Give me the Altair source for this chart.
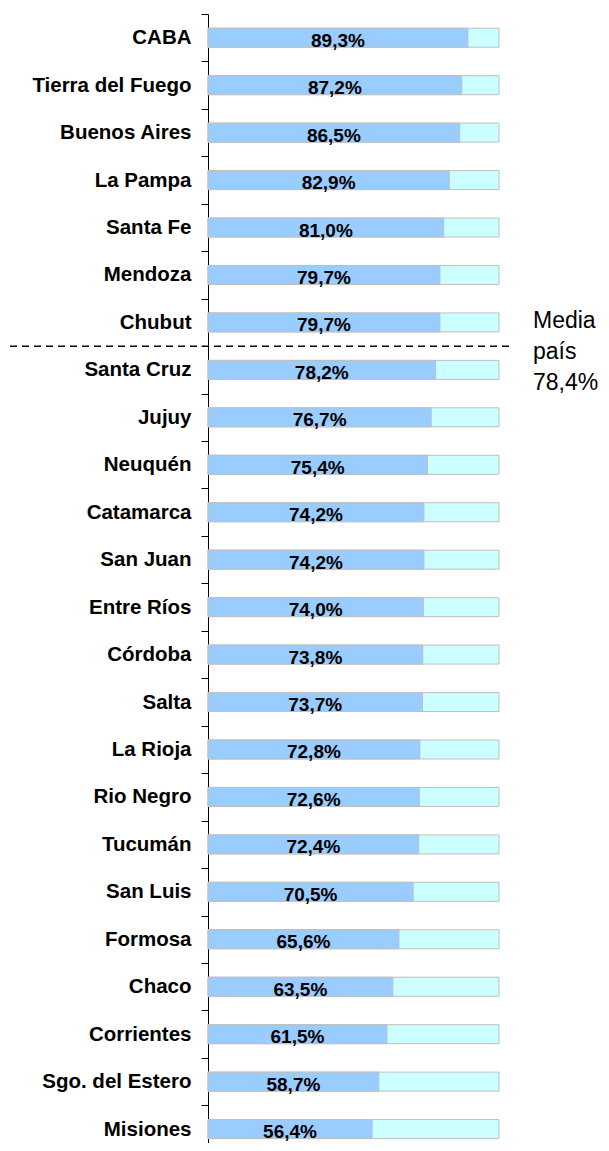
import altair as alt
import pandas as pd

provincias = ["CABA", "Tierra del Fuego", "Buenos Aires", "La Pampa", "Santa Fe",
              "Mendoza", "Chubut", "Santa Cruz", "Jujuy", "Neuquén", "Catamarca",
              "San Juan", "Entre Ríos", "Córdoba", "Salta", "La Rioja", "Rio Negro",
              "Tucumán", "San Luis", "Formosa", "Chaco", "Corrientes",
              "Sgo. del Estero", "Misiones"]
valores = [89.3, 87.2, 86.5, 82.9, 81.0, 79.7, 79.7, 78.2, 76.7, 75.4, 74.2,
           74.2, 74.0, 73.8, 73.7, 72.8, 72.6, 72.4, 70.5, 65.6, 63.5, 61.5,
           58.7, 56.4]
total = 100.0
media_texto = ["Media", "país", "78,4%"]
media_entre = "Chubut"  # the national mean line sits below this province

df = pd.DataFrame({"provincia": provincias, "valor": valores})
df["total"] = total
df["mitad"] = df["valor"] / 2
df["etiqueta"] = [f"{v:.1f}".replace(".", ",") + "%" for v in valores]

FONT = "Liberation Sans"

y_scale = alt.Scale(type="band", paddingInner=0, paddingOuter=0, range=[0, 1138.8])
y_axis = alt.Axis(tickBand="extent", tickSize=7, labelPadding=10, labelFont=FONT,
                  labelFontWeight="bold", labelFontSize=20.5, labelColor="black",
                  domainColor="black", tickColor="black", labelLimit=300,
                  domainWidth=1, tickWidth=1, grid=False)
x_scale = alt.Scale(domain=[0, 100], nice=False, zero=True)


def y_enc(**kw):
    return alt.Y("provincia:N", sort=provincias, title=None, scale=y_scale,
                 axis=y_axis, **kw)


base = alt.Chart(df)

fondo = base.mark_bar(size=19, color="#CCFFFF", stroke="#BFBFBF", strokeWidth=1).encode(
    x=alt.X("total:Q", scale=x_scale, axis=None),
    y=y_enc(),
)
barras = base.mark_bar(size=19, color="#99CCFF", stroke="#BFBFBF", strokeWidth=1).encode(
    x=alt.X("valor:Q", scale=x_scale, axis=None),
    y=y_enc(),
)
etiquetas = base.mark_text(font=FONT, fontWeight="bold", fontSize=19, color="black",
                           align="center", baseline="middle", dy=3).encode(
    x=alt.X("mitad:Q", scale=x_scale, axis=None),
    y=y_enc(),
    text="etiqueta:N",
)

linea = alt.Chart(pd.DataFrame({"provincia": [media_entre]})).mark_rule(
    color="black", strokeWidth=1.5, strokeDash=[7, 5]
).encode(
    y=y_enc(bandPosition=1),
    x=alt.value(-198),
    x2=alt.value(302),
)

media = alt.Chart(pd.DataFrame({"provincia": [media_entre]})).mark_text(
    font=FONT, fontSize=23, lineHeight=31, align="left", baseline="middle", color="black"
).encode(
    x=alt.value(325),
    y=alt.value(307),
    text=alt.value(media_texto),
)

chart = alt.layer(fondo, barras, etiquetas, linea, media).properties(
    width=291,
    height=1129,
    autosize=alt.AutoSizeParams(type="none"),
    padding={"left": 200, "top": 6, "right": 102, "bottom": 0},
).configure_view(stroke=None)

chart.save("out.html", embed_options={"renderer": "svg", "actions": False})
